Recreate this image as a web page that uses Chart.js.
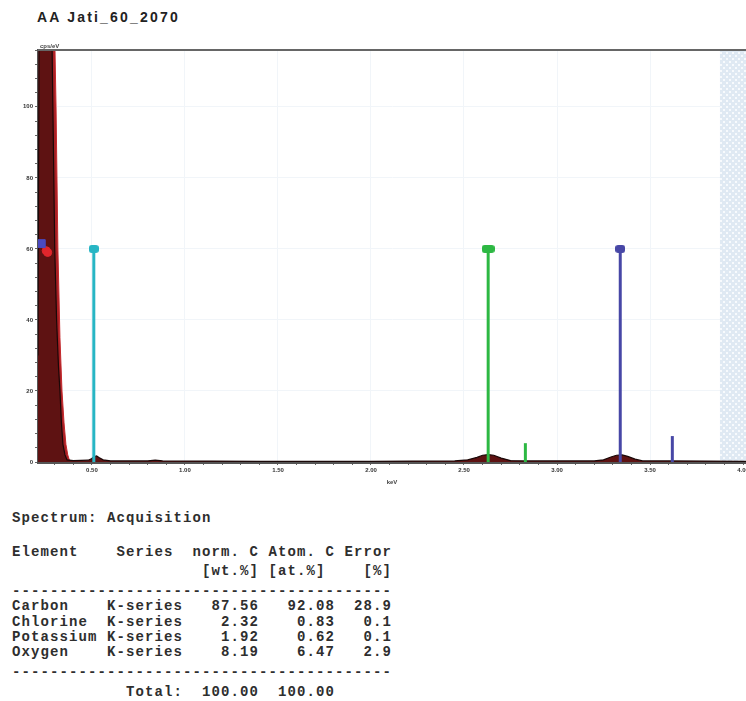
<!DOCTYPE html>
<html>
<head>
<meta charset="utf-8">
<script src="https://cdn.jsdelivr.net/npm/chart.js@4.4.1/dist/chart.umd.min.js"></script>
<style>
  body { margin:0; background:#fff; width:746px; height:701px; overflow:hidden; position:relative; font-family:"Liberation Sans", Arial, sans-serif; }
  #title { position:absolute; left:37px; top:9px; font-size:14px; font-weight:bold; color:#222; letter-spacing:2.2px; }
  #wrap { position:absolute; left:0; top:40px; width:746px; height:450px; }
  .row { position:absolute; left:12px; margin:0; white-space:pre; font-family:"Liberation Mono", monospace; font-weight:bold; font-size:14px; line-height:16px; letter-spacing:1.1px; color:#2e2e2e; }
</style>
</head>
<body>
<div id="title">AA Jati_60_2070</div>
<div id="wrap"><canvas id="myChart" width="746" height="450"></canvas></div>
<div id="table"></div>
<script>
// spectrum (keV, cps/eV)
var spectrumKeV = [0.21, 0.218, 0.23, 0.25, 0.27, 0.28, 0.29, 0.30, 0.31, 0.32, 0.328, 0.336, 0.344, 0.355, 0.366, 0.40, 0.48, 0.50, 0.51, 0.525, 0.54, 0.56, 0.60, 0.80, 0.84, 0.88, 1.40, 2.00, 2.45, 2.52, 2.57, 2.60, 2.63, 2.66, 2.70, 2.75, 2.82, 2.85, 3.20, 3.25, 3.29, 3.32, 3.35, 3.38, 3.42, 3.46, 3.60, 4.02];
var spectrumCps = [30, 160, 230, 250, 190, 140, 100, 60, 40, 27, 20, 11, 5, 2, 0.6, 0.4, 0.5, 1.0, 1.5, 1.7, 1.2, 0.6, 0.3, 0.3, 0.5, 0.3, 0.2, 0.2, 0.3, 0.6, 1.3, 1.9, 2.1, 1.9, 1.1, 0.4, 0.3, 0.3, 0.3, 0.6, 1.4, 1.9, 2.0, 1.6, 0.8, 0.3, 0.3, 0.2];
// carbon fit (red)
var fitKeV = [0.21, 0.22, 0.25, 0.28, 0.30, 0.307, 0.317, 0.328, 0.339, 0.35, 0.36, 0.37, 0.382, 0.40];
var fitCps = [40, 170, 250, 170, 120, 100, 60, 35, 20, 11, 5, 2, 0, 0];

// element lines
var lineElements = ['O', 'Cl', 'Cl', 'K', 'K'];
var lineKeV = [0.51, 2.63, 2.83, 3.34, 3.62];
var lineCps = [60, 60, 5.3, 60, 7.3];

// carbon markers at left
var carbonMarkKeV = [0.228, 0.254, 0.262];
var carbonMarkCps = [61.5, 59.5, 59];

var xTickValues = [0.5, 1.0, 1.5, 2.0, 2.5, 3.0, 3.5, 4.0];
var xTickLabels = ['0.50', '1.00', '1.50', '2.00', '2.50', '3.00', '3.50', '4.00'];
var yTickValues = [0, 20, 40, 60, 80, 100];

var tableLines = [
  'Spectrum: Acquisition',
  'Element    Series  norm. C Atom. C Error',
  '                    [wt.%] [at.%]    [%]',
  '----------------------------------------',
  'Carbon    K-series   87.56   92.08  28.9',
  'Chlorine  K-series    2.32    0.83   0.1',
  'Potassium K-series    1.92    0.62   0.1',
  'Oxygen    K-series    8.19    6.47   2.9',
  '----------------------------------------',
  '            Total:  100.00  100.00'
];
var rowTops = [510, 544, 563, 583, 598, 614, 629, 644, 664, 684];
var tbl = document.getElementById('table');
tableLines.forEach(function(t, k){
    var d = document.createElement('div');
    d.className = 'row';
    d.style.top = rowTops[k] + 'px';
    d.textContent = t;
    tbl.appendChild(d);
});

var xMin = 0.21, xMax = 4.016, shadeFrom = 3.876;
var elementColors = { O: '#27b5c4', Cl: '#2db843', K: '#4747a6' };

var xMinor = [];
for (var i = 3; i <= 40; i++) xMinor.push(i / 10);
var yMinor = [];
for (var j = 0; j <= 116; j += 4) yMinor.push(j);

const pts = function(xs, ys){
    return xs.map(function(x, k){ return { x: x, y: ys[k] }; });
};

const isMajorX = function(v){ return xTickValues.indexOf(Math.round(v * 100) / 100) >= 0; };

const markerImage = function(color, w, h){
    var m = document.createElement('canvas');
    m.width = w; m.height = h;
    var mc = m.getContext('2d');
    mc.fillStyle = color;
    mc.beginPath();
    mc.roundRect(0, 0, w, h, 3);
    mc.fill();
    return m;
};

var framePlugin = {
    id: 'frame',
    beforeDatasetsDraw: function(chart){
        var c = chart.ctx, a = chart.chartArea, xs = chart.scales.x;
        var p = document.createElement('canvas');
        p.width = 6; p.height = 6;
        var pc = p.getContext('2d');
        pc.fillStyle = '#dfe9f3'; pc.fillRect(0, 0, 6, 6);
        pc.fillStyle = '#f7fafd';
        pc.fillRect(0, 0, 2, 2); pc.fillRect(3, 3, 2, 2);
        var sx = xs.getPixelForValue(shadeFrom);
        c.save();
        c.fillStyle = c.createPattern(p, 'repeat');
        c.fillRect(sx, a.top, a.right - sx, a.bottom - a.top);
        c.restore();
    },
    afterDraw: function(chart){
        var c = chart.ctx, a = chart.chartArea;
        c.save();
        c.strokeStyle = '#666'; c.lineWidth = 2;
        c.beginPath(); c.moveTo(a.left, a.top); c.lineTo(a.right, a.top); c.stroke();
        c.fillStyle = '#444';
        c.font = 'bold 6px "Liberation Sans", Arial';
        c.textBaseline = 'bottom';
        c.fillText('cps/eV', a.left + 2, a.top - 1);
        c.restore();
    }
};

const renderChart = function(){
    var ctx = document.getElementById('myChart').getContext('2d');
    var datasets = [];
    lineElements.forEach(function(el, k){
        var col = elementColors[el];
        var img = markerImage(col, el === 'Cl' ? 13 : 10, 8);
        datasets.push({
            type: 'line',
            data: [{ x: lineKeV[k], y: 0 }, { x: lineKeV[k], y: lineCps[k] }],
            borderColor: col,
            backgroundColor: col,
            borderWidth: 3,
            pointStyle: img,
            pointRadius: [0, lineCps[k] >= 50 ? 5 : 0],
            order: 0
        });
    });
    datasets.push({
        type: 'scatter',
        data: pts(carbonMarkKeV.slice(0, 1), carbonMarkCps.slice(0, 1)),
        pointStyle: 'rect', pointRadius: 5.5,
        backgroundColor: '#4a4ac0', borderColor: '#4a4ac0',
        order: 0
    });
    datasets.push({
        type: 'scatter',
        data: pts(carbonMarkKeV.slice(1), carbonMarkCps.slice(1)),
        pointRadius: 4,
        backgroundColor: '#e0262c', borderColor: '#e0262c',
        order: 0
    });
    datasets.push({
        type: 'line',
        data: pts(spectrumKeV, spectrumCps),
        borderColor: '#1a0808', borderWidth: 1.2,
        backgroundColor: '#5e1212',
        fill: 'origin', pointRadius: 0, tension: 0,
        order: 1
    });
    datasets.push({
        type: 'line',
        data: pts(fitKeV, fitCps),
        borderColor: '#c4282c', borderWidth: 1,
        backgroundColor: '#a82024',
        fill: 'origin', pointRadius: 0, tension: 0,
        order: 2
    });

    var myChart = new Chart(ctx, {
        type: 'scatter',
        data: { datasets: datasets },
        plugins: [framePlugin],
        options: {
            responsive: false,
            animation: false,
            layout: { autoPadding: false, padding: { top: 10, left: 0, right: 0, bottom: 4 } },
            plugins: { legend: { display: false }, tooltip: { enabled: false } },
            scales: {
                x: {
                    type: 'linear', min: xMin, max: xMax,
                    afterBuildTicks: function(s){ s.ticks = xMinor.map(function(v){ return { value: v }; }); },
                    afterFit: function(s){ s.height = 24; s.paddingLeft = 0; s.paddingRight = 0; },
                    ticks: {
                        autoSkip: false, maxRotation: 0, padding: 2, color: '#333',
                        font: { size: 6, weight: 'bold' },
                        callback: function(v){
                            var k = xTickValues.indexOf(Math.round(v * 100) / 100);
                            return k >= 0 ? xTickLabels[k] : '';
                        }
                    },
                    grid: {
                        color: function(c){ return c.tick && isMajorX(c.tick.value) ? '#f1f5f9' : 'rgba(0,0,0,0)'; },
                        tickColor: '#666', tickLength: 3, lineWidth: 1
                    },
                    border: { color: '#555', width: 3 },
                    title: { display: true, text: 'keV', color: '#444', font: { size: 6, weight: 'bold' }, padding: 0 }
                },
                y: {
                    min: 0, max: 116,
                    afterBuildTicks: function(s){ s.ticks = yMinor.map(function(v){ return { value: v }; }); },
                    afterFit: function(s){ s.width = 38; s.paddingTop = 0; s.paddingBottom = 0; },
                    ticks: {
                        autoSkip: false, padding: 2, color: '#333',
                        font: { size: 6, weight: 'bold' },
                        callback: function(v){ return yTickValues.indexOf(v) >= 0 ? String(v) : ''; }
                    },
                    grid: {
                        color: function(c){ return c.tick && yTickValues.indexOf(c.tick.value) > 0 ? '#f1f5f9' : 'rgba(0,0,0,0)'; },
                        tickColor: '#666', tickLength: 3, lineWidth: 1
                    },
                    border: { color: '#555', width: 2 }
                }
            }
        }
    });
};

renderChart();
</script>
</body>
</html>
